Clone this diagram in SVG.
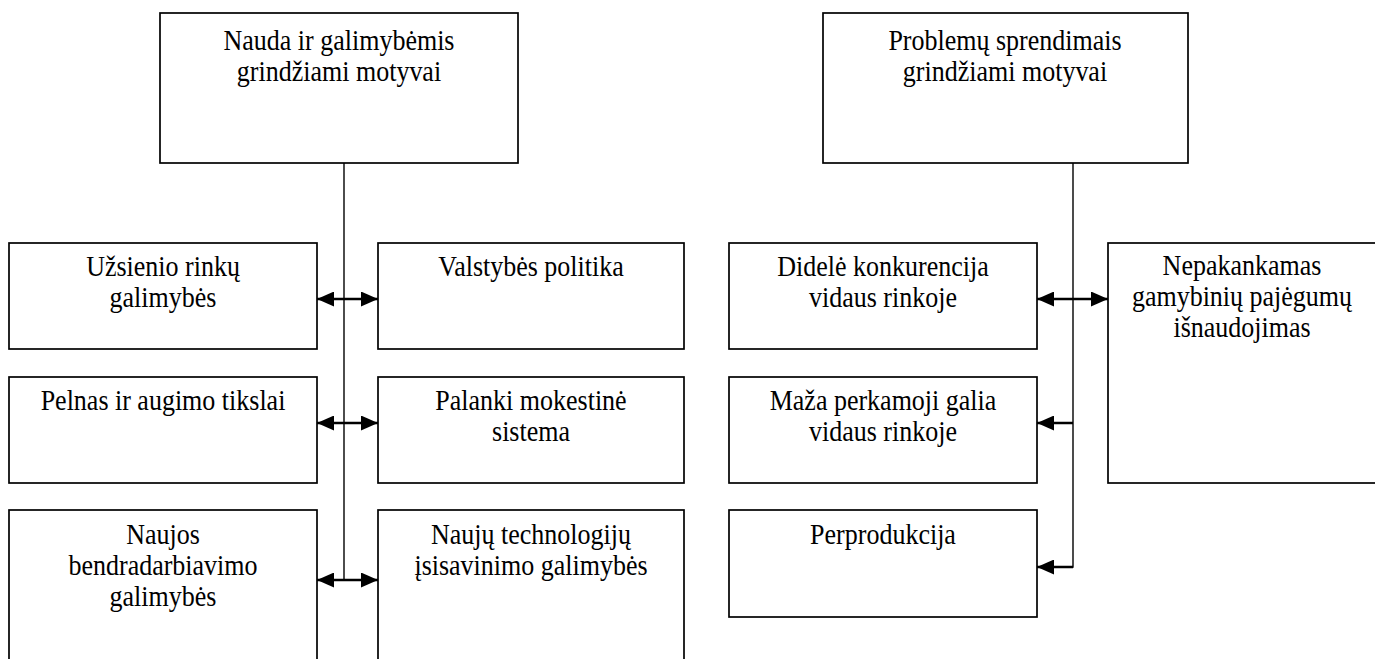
<svg xmlns="http://www.w3.org/2000/svg" width="1375" height="659" viewBox="0 0 1375 659">
  <style>
    .box { fill: #ffffff; stroke: #000000; stroke-width: 1.7; }
    .lbl { font-family: "Liberation Serif", "Times New Roman", serif; font-size: 26px; fill: #000000; text-anchor: middle; }
    .trunk { fill: none; stroke: #000000; stroke-width: 1.4; }
    .arrow { fill: none; stroke: #000000; stroke-width: 2.6; }
  </style>
  <defs>
    <marker id="ah" viewBox="0 0 17 15" refX="17" refY="7.5" markerWidth="17" markerHeight="15" markerUnits="userSpaceOnUse" orient="auto-start-reverse">
      <path d="M0,0 L17,7.5 L0,15 Z" fill="#000000"/>
    </marker>
  </defs>

  <rect width="1375" height="659" fill="#ffffff"/>

  <!-- connectors -->
  <g id="connectors">
    <!-- left trunk and double arrows -->
    <path class="trunk" d="M344,163 V580"/>
    <path class="arrow" d="M317,299 H378" marker-start="url(#ah)" marker-end="url(#ah)"/>
    <path class="arrow" d="M317,423 H378" marker-start="url(#ah)" marker-end="url(#ah)"/>
    <path class="arrow" d="M317,580 H378" marker-start="url(#ah)" marker-end="url(#ah)"/>
    <!-- right trunk -->
    <path class="trunk" d="M1073,163 V567 H1060"/>
    <path class="arrow" d="M1037,299 H1108" marker-start="url(#ah)" marker-end="url(#ah)"/>
    <path class="arrow" d="M1073,423 H1037" marker-end="url(#ah)"/>
    <path class="arrow" d="M1073,567 H1037" marker-end="url(#ah)"/>
  </g>

  <!-- labels are drawn slightly tall: scale(1,1.12) about each baseline -->
  <!-- left group -->
  <g id="nauda">
    <rect class="box" x="160" y="13" width="358" height="150"/>
    <text class="lbl" transform="translate(339,50) scale(1,1.12)">Nauda ir galimybėmis</text>
    <text class="lbl" transform="translate(339,81) scale(1,1.12)">grindžiami motyvai</text>
  </g>
  <g id="uzsienio">
    <rect class="box" x="9" y="243" width="308" height="106"/>
    <text class="lbl" transform="translate(163,276) scale(1,1.12)">Užsienio rinkų</text>
    <text class="lbl" transform="translate(163,307) scale(1,1.12)">galimybės</text>
  </g>
  <g id="valstybes">
    <rect class="box" x="378" y="243" width="306" height="106"/>
    <text class="lbl" transform="translate(531,276) scale(1,1.12)">Valstybės politika</text>
  </g>
  <g id="pelnas">
    <rect class="box" x="9" y="377" width="308" height="106"/>
    <text class="lbl" transform="translate(163,410) scale(1,1.12)">Pelnas ir augimo tikslai</text>
  </g>
  <g id="palanki">
    <rect class="box" x="378" y="377" width="306" height="106"/>
    <text class="lbl" transform="translate(531,410) scale(1,1.12)">Palanki mokestinė</text>
    <text class="lbl" transform="translate(531,441) scale(1,1.12)">sistema</text>
  </g>
  <g id="bendradarbiavimo">
    <rect class="box" x="9" y="510" width="308" height="160"/>
    <text class="lbl" transform="translate(163,544) scale(1,1.12)">Naujos</text>
    <text class="lbl" transform="translate(163,575) scale(1,1.12)">bendradarbiavimo</text>
    <text class="lbl" transform="translate(163,606) scale(1,1.12)">galimybės</text>
  </g>
  <g id="technologiju">
    <rect class="box" x="378" y="510" width="306" height="160"/>
    <text class="lbl" transform="translate(531,544) scale(1,1.12)">Naujų technologijų</text>
    <text class="lbl" transform="translate(531,575) scale(1,1.12)">įsisavinimo galimybės</text>
  </g>

  <!-- right group -->
  <g id="problemu">
    <rect class="box" x="823" y="13" width="365" height="150"/>
    <text class="lbl" transform="translate(1005,50) scale(1,1.12)">Problemų sprendimais</text>
    <text class="lbl" transform="translate(1005,81) scale(1,1.12)">grindžiami motyvai</text>
  </g>
  <g id="konkurencija">
    <rect class="box" x="729" y="243" width="308" height="106"/>
    <text class="lbl" transform="translate(883,276) scale(1,1.12)">Didelė konkurencija</text>
    <text class="lbl" transform="translate(883,307) scale(1,1.12)">vidaus rinkoje</text>
  </g>
  <g id="pajegumu">
    <rect class="box" x="1108" y="243" width="270" height="240"/>
    <text class="lbl" transform="translate(1242,275) scale(1,1.12)">Nepakankamas</text>
    <text class="lbl" transform="translate(1242,306) scale(1,1.12)">gamybinių pajėgumų</text>
    <text class="lbl" transform="translate(1242,337) scale(1,1.12)">išnaudojimas</text>
  </g>
  <g id="perkamoji">
    <rect class="box" x="729" y="377" width="308" height="106"/>
    <text class="lbl" transform="translate(883,410) scale(1,1.12)">Maža perkamoji galia</text>
    <text class="lbl" transform="translate(883,441) scale(1,1.12)">vidaus rinkoje</text>
  </g>
  <g id="perprodukcija">
    <rect class="box" x="729" y="510" width="308" height="107"/>
    <text class="lbl" transform="translate(883,544) scale(1,1.12)">Perprodukcija</text>
  </g>
</svg>
